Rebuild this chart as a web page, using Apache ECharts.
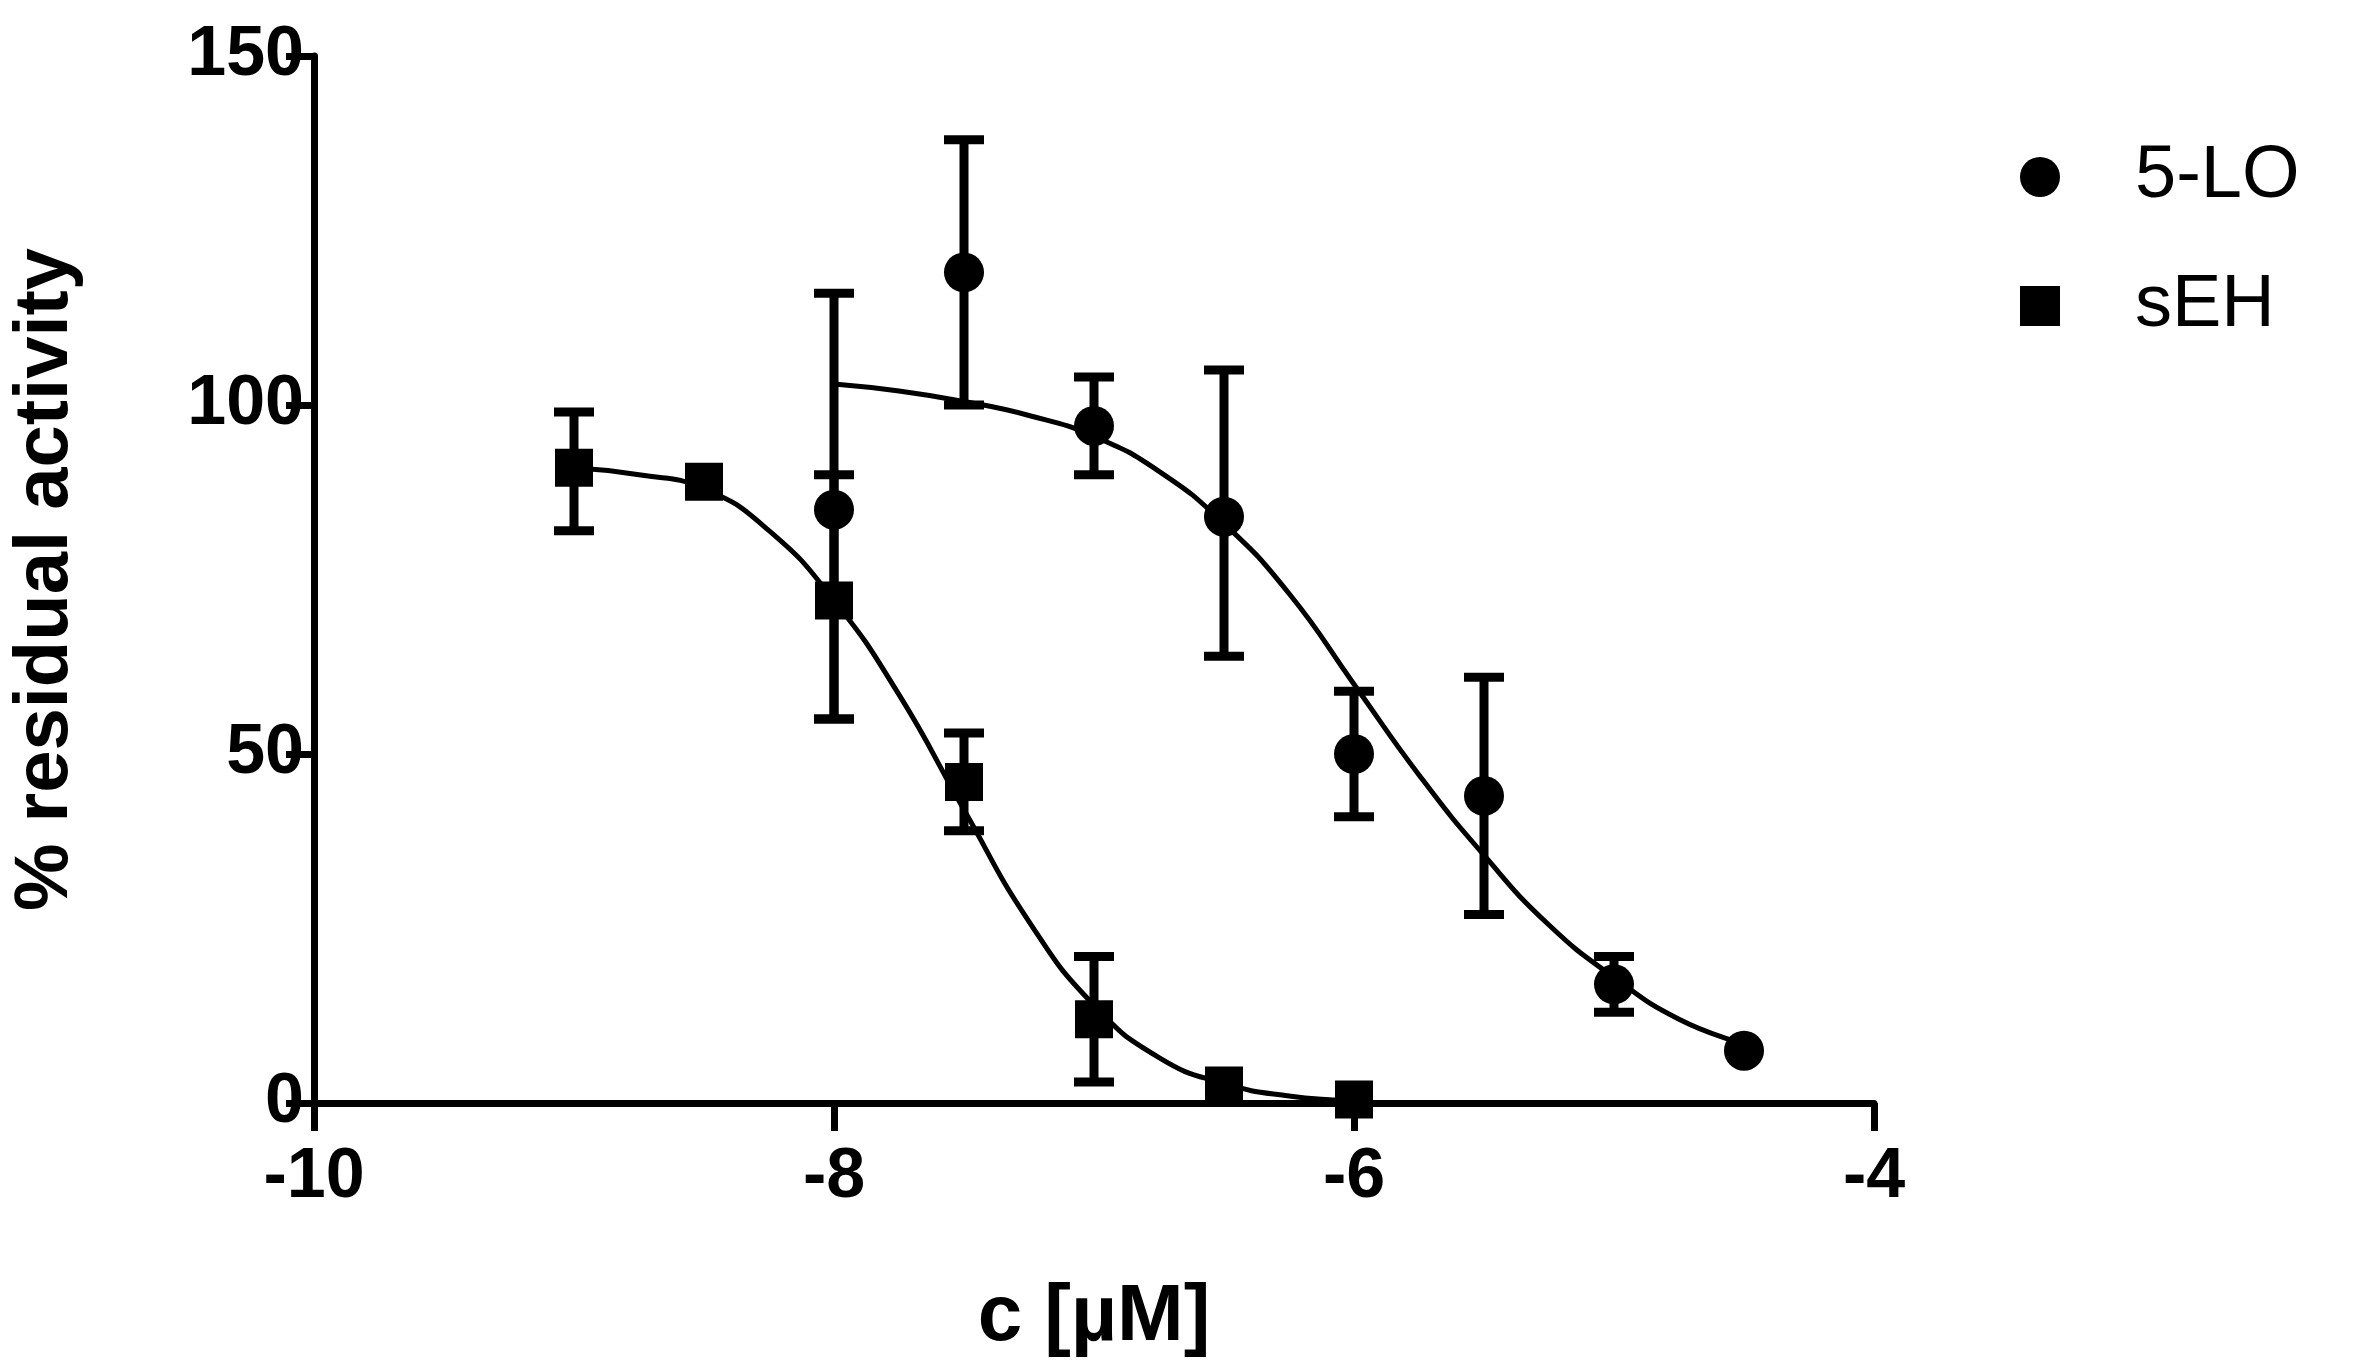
<!DOCTYPE html>
<html>
<head>
<meta charset="utf-8">
<script src="https://cdn.jsdelivr.net/npm/echarts@6/dist/echarts.min.js"></script>
<style>html,body{margin:0;background:#fff}#chart{width:2366px;height:1369px}</style>
</head>
<body>
<div id="chart"></div>
<script>
// Measured points: [log c, mean, lower, upper]
const loPoints = [
  [-8, 85, 55, 116], [-7.5, 119, 100, 138], [-7, 97, 90, 104], [-6.5, 84, 64, 105],
  [-6, 50, 41, 59], [-5.5, 44, 27, 61], [-5, 17, 13, 21], [-4.5, 7.5, 7.5, 7.5]
];
const sehPoints = [
  [-9, 91, 82, 99], [-8.5, 89, 89, 89], [-8, 72, 55, 90], [-7.5, 46, 39, 53],
  [-7, 12, 3, 21], [-6.5, 2.5, 2.5, 2.5], [-6, 0.5, 0.5, 0.5]
];
// Fitted curves
const loCurve = [
  [-8, 103], [-7.75, 102], [-7.5, 100.5], [-7.25, 98.5], [-7, 95.5], [-6.75, 90.5],
  [-6.5, 83], [-6.25, 73], [-6, 60], [-5.75, 47], [-5.5, 35.5], [-5.25, 25.5],
  [-5, 18], [-4.75, 12], [-4.5, 8.5]
];
const sehCurve = [
  [-9, 91], [-8.75, 90], [-8.5, 88], [-8.25, 82], [-8, 72], [-7.75, 58.5],
  [-7.5, 42], [-7.25, 26], [-7, 14], [-6.75, 6.5], [-6.5, 2.8], [-6.25, 1], [-6, 0.3]
];

let errorBars = (points) => ({
  type: "custom",
  silent: true,
  z: 3,
  data: points.filter((p) => p[3] > p[2]).map((p) => [p[0], p[2], p[3]]),
  renderItem: (params, api) => {
    let lo = api.coord([api.value(0), api.value(1)]);
    let hi = api.coord([api.value(0), api.value(2)]);
    let w = 20;
    let style = { stroke: "#000", lineWidth: 9 };
    return {
      type: "group",
      children: [
        { type: "line", shape: { x1: lo[0], y1: lo[1], x2: hi[0], y2: hi[1] }, style },
        { type: "line", shape: { x1: lo[0] - w, y1: lo[1], x2: lo[0] + w, y2: lo[1] }, style },
        { type: "line", shape: { x1: hi[0] - w, y1: hi[1], x2: hi[0] + w, y2: hi[1] }, style }
      ]
    };
  }
});

let curve = (data) => ({
  type: "line", data: data, smooth: true, symbol: "none", silent: true, z: 2,
  lineStyle: { color: "#000", width: 5 }
});

let chart = echarts.init(document.getElementById("chart"));
let font = "'Liberation Sans Narrow', 'Liberation Sans', Arial, sans-serif";
chart.setOption({
  animation: false,
  grid: { left: 309, right: 492, top: 56, bottom: 266 },
  legend: {
    left: 2015, top: 135, orient: "vertical", itemGap: 55, itemWidth: 40, itemHeight: 40,
    data: ["5-LO", "sEH"],
    itemStyle: { opacity: 1 },
    textStyle: { fontFamily: font, fontSize: 74, color: "#000", padding: [0, 0, 0, 70] }
  },
  xAxis: {
    type: "value", min: -10, max: -4, interval: 2,
    name: "c [µM]", nameLocation: "middle", nameGap: 175,
    nameTextStyle: { fontFamily: font, fontSize: 80, fontWeight: "bold", color: "#000" },
    axisLine: { onZero: false, lineStyle: { color: "#000", width: 7 } },
    axisTick: { length: 28, lineStyle: { width: 7, color: "#000" } },
    axisLabel: { fontFamily: font, fontSize: 70, fontWeight: "bold", color: "#000", margin: 40 },
    splitLine: { show: false }
  },
  yAxis: {
    type: "value", min: 0, max: 150, interval: 50,
    name: "% residual activity", nameLocation: "middle", nameGap: 230,
    nameTextStyle: { fontFamily: font, fontSize: 76, fontWeight: "bold", color: "#000" },
    axisLine: { show: true, lineStyle: { color: "#000", width: 7 } },
    axisTick: { show: true, length: 28, lineStyle: { width: 7, color: "#000" } },
    axisLabel: { fontFamily: font, fontSize: 70, fontWeight: "bold", color: "#000", margin: 10 },
    splitLine: { show: false }
  },
  series: [
    curve(loCurve),
    curve(sehCurve),
    errorBars(loPoints),
    errorBars(sehPoints),
    {
      name: "5-LO", type: "scatter", symbol: "circle", symbolSize: 40, z: 4,
      itemStyle: { color: "#000", opacity: 1 }, data: loPoints.map((p) => [p[0], p[1]])
    },
    {
      name: "sEH", type: "scatter", symbol: "rect", symbolSize: 38, z: 4,
      itemStyle: { color: "#000", opacity: 1 }, data: sehPoints.map((p) => [p[0], p[1]])
    }
  ]
});
</script>
</body>
</html>
